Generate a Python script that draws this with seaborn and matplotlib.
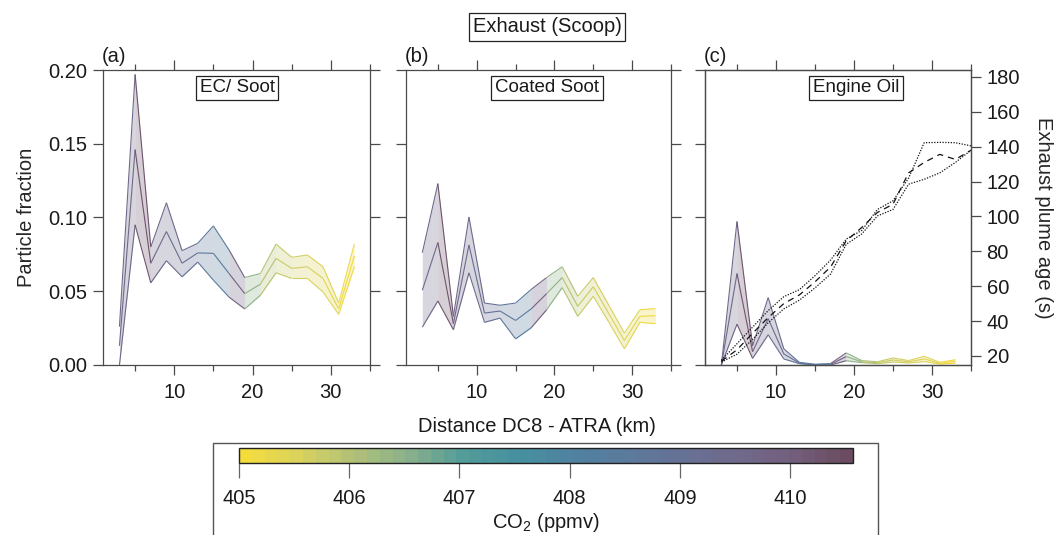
import numpy as np
import pandas as pd
import matplotlib
matplotlib.use("Agg")
import matplotlib.pyplot as plt
import seaborn as sns
from matplotlib.colors import LinearSegmentedColormap, Normalize
from matplotlib.cm import ScalarMappable
from matplotlib.patches import Rectangle
from matplotlib.ticker import MultipleLocator, FormatStrFormatter

# ---- data -------------------------------------------------------------
distance_km = [3, 5, 7, 9, 11, 13, 15, 17, 19, 21, 23, 25, 27, 29, 31, 33]
# CO2 of each 2-km segment between consecutive distance bins
co2_ppmv = [409.6, 410.3, 409.6, 409.4, 409.0, 408.6, 408.4, 409.8,
            406.4, 406.0, 405.7, 405.6, 405.5, 405.4, 405.2]

ec_soot_lo = [0.000, 0.095, 0.0557, 0.0707, 0.0598, 0.0698, 0.0575, 0.046,
              0.038, 0.0473, 0.0625, 0.0587, 0.0587, 0.0495, 0.0343, 0.0666]
ec_soot_mid = [0.013, 0.146, 0.069, 0.0905, 0.069, 0.076, 0.0757, 0.062,
               0.0484, 0.0548, 0.0723, 0.0655, 0.0666, 0.0587, 0.038, 0.0739]
ec_soot_hi = [0.026, 0.197, 0.080, 0.110, 0.0775, 0.0825, 0.0943, 0.078,
              0.0593, 0.062, 0.082, 0.073, 0.0746, 0.0666, 0.042, 0.082]

coated_lo = [0.0257, 0.0434, 0.0239, 0.0625, 0.0289, 0.0318, 0.0177, 0.0252,
             0.0375, 0.0525, 0.033, 0.0466, 0.029, 0.011, 0.0289, 0.028]
coated_mid = [0.0507, 0.083, 0.028, 0.0814, 0.0352, 0.0366, 0.0302, 0.038,
              0.0484, 0.0593, 0.0398, 0.053, 0.0348, 0.0166, 0.033, 0.0334]
coated_hi = [0.0761, 0.123, 0.033, 0.1003, 0.042, 0.0405, 0.042, 0.0512,
             0.0593, 0.0666, 0.0466, 0.0593, 0.0405, 0.0216, 0.0375, 0.0382]

oil_lo = [0.0, 0.0277, 0.0045, 0.0205, 0.0041, 0.0009, 0.0, 0.0,
          0.0029, 0.0016, 0.0009, 0.0020, 0.0014, 0.0023, 0.0007, 0.0012]
oil_mid = [0.0, 0.062, 0.009, 0.0314, 0.0075, 0.0013, 0.0003, 0.0005,
           0.0057, 0.0022, 0.0016, 0.0034, 0.0022, 0.0041, 0.0012, 0.0025]
oil_hi = [0.0, 0.0973, 0.013, 0.0457, 0.011, 0.0018, 0.0005, 0.0010,
          0.0082, 0.0030, 0.0022, 0.0048, 0.0030, 0.0059, 0.0018, 0.0036]

age_km = [3, 5, 7, 9, 11, 13, 15, 17, 19, 21, 23, 25, 27, 29, 31, 33, 35]
age_hi = [17.5, 27, 36.5, 46, 54, 58, 66, 75, 87, 92, 104, 109, 122,
          142.3, 142.5, 142.3, 140.5]
age_mid = [17, 23.5, 33, 42, 50, 55, 62.5, 71, 86, 93.7, 102.3, 107, 125,
           131, 135.6, 132.7, 138]
age_lo = [16.5, 21, 29.5, 39, 47, 52, 59, 67, 84, 90, 100.3, 104, 118.5,
          121.3, 125, 131, 138]

panel_tags = ["(a)", "(b)", "(c)"]
panel_names = ["EC/ Soot", "Coated Soot", "Engine Oil"]
cbar_ticks = [405, 406, 407, 408, 409, 410]

# ---- style ------------------------------------------------------------
sns.set_style("ticks")
plt.rcParams["font.family"] = ["Liberation Sans", "DejaVu Sans"]
plt.rcParams["mathtext.fontset"] = "custom"
plt.rcParams["mathtext.rm"] = "Liberation Sans"
plt.rcParams["mathtext.it"] = "Liberation Sans"
plt.rcParams["text.color"] = "#1a1a1a"
plt.rcParams["axes.edgecolor"] = "#4a4a4a"
plt.rcParams["xtick.color"] = "#4a4a4a"
plt.rcParams["ytick.color"] = "#4a4a4a"
plt.rcParams["xtick.labelcolor"] = "#1a1a1a"
plt.rcParams["ytick.labelcolor"] = "#1a1a1a"
FS = 14.5
FS_BOX = 13.5

cmap = LinearSegmentedColormap.from_list(
    "co2",
    ["#f4dc3c", "#d9d25e", "#b0c078", "#88b08c", "#529c9a", "#46909e",
     "#4f82a0", "#5c7a9c", "#667196", "#706a8c", "#735f7c", "#6a4b5f"],
    N=48,
)
norm = Normalize(405.0, 410.57)

W, H = 1062, 535
fig = plt.figure(figsize=(W / 100, H / 100), dpi=100)


def fx(px):
    return px / W


def fy(py):
    return 1 - py / H


panel_x = [(103, 370), (406, 671), (705, 971)]
top_px, bot_px = 70, 365
label_frac = [0.502, 0.532, 0.568]
series = [
    (ec_soot_lo, ec_soot_mid, ec_soot_hi),
    (coated_lo, coated_mid, coated_hi),
    (oil_lo, oil_mid, oil_hi),
]

axes = []
for i, (x0, x1) in enumerate(panel_x):
    ax = fig.add_axes([fx(x0), fy(bot_px), fx(x1 - x0), (bot_px - top_px) / H])
    axes.append(ax)
    lo, mid, hi = series[i]
    for k in range(len(distance_km) - 1):
        xs = distance_km[k:k + 2]
        c = cmap(norm(co2_ppmv[k]))
        ax.fill_between(xs, lo[k:k + 2], hi[k:k + 2], color=c, alpha=0.28,
                        lw=0)
        for arr in (lo, mid, hi):
            ax.plot(xs, arr[k:k + 2], color=c, lw=0.8, solid_capstyle="butt")

    ax.set_xlim(0.9, 35)
    ax.set_ylim(0, 0.20)
    ax.xaxis.set_major_locator(MultipleLocator(10))
    ax.xaxis.set_minor_locator(MultipleLocator(5))
    ax.yaxis.set_major_locator(MultipleLocator(0.05))
    ax.yaxis.set_major_formatter(FormatStrFormatter("%.2f"))
    for s in ax.spines.values():
        s.set_visible(True)
        s.set_linewidth(0.9)
    ax.tick_params(which="both", direction="out", top=True, bottom=True,
                   left=True, right=(i < 2), width=0.9, labelsize=FS)
    ax.tick_params(which="major", length=7.2, pad=4)
    ax.tick_params(which="minor", length=4.0)
    ax.tick_params(axis="x", pad=6)
    if i > 0:
        ax.tick_params(axis="y", labelleft=False)

    ax.text(label_frac[i], 0.939, panel_names[i], transform=ax.transAxes,
            ha="center", va="center", fontsize=FS_BOX,
            bbox=dict(boxstyle="square,pad=0.2", fc="white", ec="#222222",
                      lw=0.9))
    ax.text(-0.005, 1.012, panel_tags[i], transform=ax.transAxes,
            ha="left", va="bottom", fontsize=FS)

axes[0].set_ylabel("Particle fraction", fontsize=FS, labelpad=9)

# plume age on the right axis of panel (c)
ax2 = axes[2].twinx()
age_df = pd.concat([
    pd.DataFrame({"km": age_km, "age": age_hi, "bound": "upper"}),
    pd.DataFrame({"km": age_km, "age": age_mid, "bound": "mean"}),
    pd.DataFrame({"km": age_km, "age": age_lo, "bound": "lower"}),
])
sns.lineplot(data=age_df, x="km", y="age", style="bound", ax=ax2,
             color="#111111", lw=0.9, legend=False, estimator=None,
             dashes={"upper": (1.0, 1.2), "mean": (5, 4),
                     "lower": (1.0, 1.2)})
ax2.set_ylim(14.8, 184)
ax2.yaxis.set_major_locator(MultipleLocator(20))
ax2.set_xlim(0.9, 35)
ax2.set_xlabel("")
ax2.set_ylabel("Exhaust plume age (s)", fontsize=FS, rotation=270,
               labelpad=24)
for s in ax2.spines.values():
    s.set_linewidth(0.9)
ax2.tick_params(axis="y", direction="out", length=7.2, width=0.9, pad=4,
                labelsize=FS)

# headers and shared x label
fig.text(fx(547), fy(27), "Exhaust (Scoop)", ha="center", va="center",
         fontsize=FS, bbox=dict(boxstyle="square,pad=0.2", fc="white",
                                ec="#222222", lw=0.9))
fig.text(fx(537), fy(427), "Distance DC8 - ATRA (km)", ha="center",
         va="center", fontsize=FS)

# colour bar for CO2
fig.add_artist(Rectangle((fx(213), -0.05), fx(878 - 213), fy(443) + 0.05,
                         transform=fig.transFigure, fill=False,
                         ec="#555555", lw=1.0))
cax = fig.add_axes([fx(239), fy(463), fx(853 - 239), 15 / H])
sm = ScalarMappable(norm=norm, cmap=cmap)
cb = fig.colorbar(sm, cax=cax, orientation="horizontal", ticks=cbar_ticks)
cb.outline.set_linewidth(1.0)
cb.outline.set_edgecolor("#222222")
cax.tick_params(axis="x", direction="out", length=10.5, width=0.9,
                color="#666666", labelsize=FS, pad=8)
fig.text(fx(546), fy(522), "CO$_2$ (ppmv)", ha="center", va="center",
         fontsize=FS)

fig.savefig("out.png", dpi=100)
